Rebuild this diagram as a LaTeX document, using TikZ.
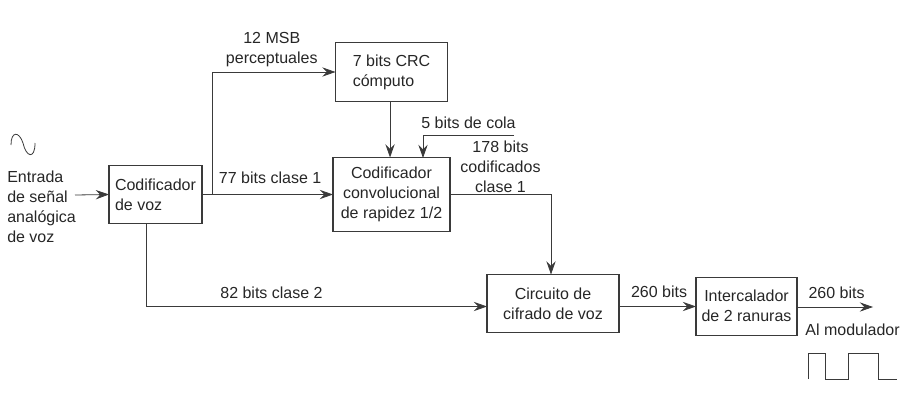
\documentclass[tikz,border=0pt]{standalone}
\usepackage{fontspec}
\setmainfont{Liberation Sans}
\usepackage{tikz}
\usetikzlibrary{positioning, arrows.meta}
\definecolor{linegray}{HTML}{3A3A3A}

\begin{document}
\begin{tikzpicture}[
  x=.75pt, y=-.75pt,
  font=\fontsize{12}{15}\selectfont,
  text=black!85,
  block/.style={draw=linegray, line width=.8pt, inner sep=0pt, outer sep=0pt, align=center},
  wire/.style={draw=linegray, line width=.6pt},
  flow/.style={wire, -{Stealth[length=10pt, width=7pt, inset=3.5pt]}},
  tag/.style={inner sep=0pt, align=center}
]
\useasboundingbox (0,0) rectangle (919,406);

% Blocks
\node[block, minimum width=69.75pt, minimum height=43.5pt, align=left] (coder) at (155.5,194.5) {Codificador\\de voz};
\node[block, minimum width=87.75pt, minimum height=55.5pt, right=98.25pt of coder] (conv) {Codificador\\convolucional\\de rapidez 1/2};
\node[block, minimum width=84pt, minimum height=44.25pt, align=left, above=42pt of conv] (crc) {7 bits CRC\\cómputo};
\node[block, minimum width=99pt, minimum height=43.5pt, below right=32.25pt and 27.75pt of conv.south east, anchor=north west] (cipher) {Circuito de\\cifrado de voz};
\node[block, minimum width=75.75pt, minimum height=43.5pt, right=57.75pt of cipher, yshift=-1.9pt] (inter) {Intercalador\\de 2 ranuras};

% Free ends
\coordinate (in) at (75,195);
\coordinate (tail) at (514,135);
\coordinate (out) at (873,307);
\coordinate[right=7.5pt of coder.east] (branch);
\coordinate (tailin) at (423,158);
\coordinate (downout) at (146,223);
\coordinate (cipherin) at ([yshift=-2.25pt]cipher.west);
\coordinate (cipherout) at ([yshift=-2.25pt]cipher.east);

% Outside labels
\node[tag, align=left, anchor=north west] (source) at (7,171) {Entrada\\de señal\\analógica\\de voz};
\node[tag, anchor=base] (modlabel) at (852.5,335) {Al modulador};

% Connectors
\draw[flow] (in) -- (coder.west);
\draw[flow] (coder.east) -- node[tag, above=7.5pt, pos=.52] (c1label) {77 bits clase 1} (conv.west);
\draw[flow] (branch) |- node[tag, above=3.75pt, pos=.742] (msblabel) {12 MSB\\perceptuales} (crc.west);
\draw[flow] ([xshift=-1.1pt]crc.south) -- ([xshift=-1.1pt]conv.north);
\draw[flow] (tail) -| node[tag, above=4.5pt, pos=.25] (taillabel) {5 bits de cola} (tailin);
\draw[flow] (conv.east) -| node[tag, above=.75pt, pos=.25] (codedlabel) {178 bits\\codificados\\clase 1} ([xshift=-1.5pt]cipher.north);
\draw[flow] (downout) |- node[tag, above=5.25pt, pos=.684] (c2label) {82 bits clase 2} (cipherin);
\draw[flow] (cipherout) -- node[tag, above=6pt, pos=.52] (c3label) {260 bits} (cipherout -| inter.west);
\draw[flow] (inter.east |- out) -- node[tag, above=6pt, pos=.52] (outlabel) {260 bits} (out);

% Signal sketches
\draw[wire] (11,145) .. controls (11,131) and (19,131) .. (23,143) .. controls (26,157) and (35,160) .. (35,143);
\draw[wire] (808,379) -- (808,353) -- (825,353) -- (825,379) -- (848,379) -- (848,353) -- (878,353) -- (878,379) -- (897,379);

\end{tikzpicture}
\end{document}
